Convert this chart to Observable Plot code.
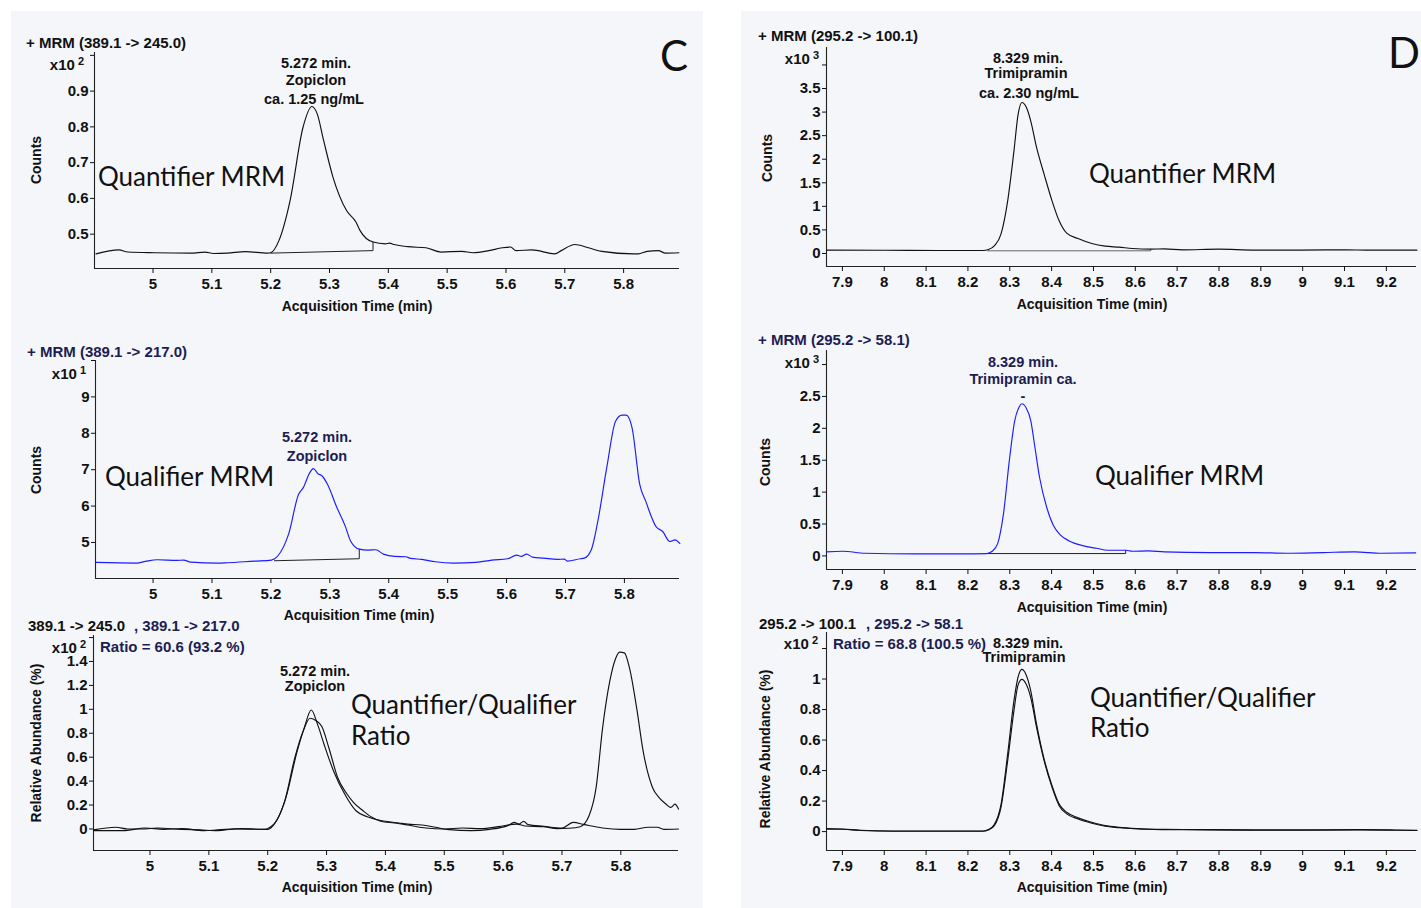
<!DOCTYPE html>
<html><head><meta charset="utf-8">
<script src="https://cdn.jsdelivr.net/npm/d3@7"></script>
<script src="https://cdn.jsdelivr.net/npm/@observablehq/plot@0.6"></script>
<style>
body{margin:0;background:#fff;width:1421px;height:908px;position:relative;overflow:hidden;font-family:"Liberation Sans",Arial,sans-serif;}
.panel{position:absolute;background:#f4f6f9;}
.lbl{position:absolute;white-space:nowrap;font-weight:bold;font-size:14px;line-height:1;color:#111;}
.hdr{font-size:15px;}
.ann{font-size:14.5px;}
.ratio{font-size:15px;}
.big{position:absolute;white-space:nowrap;font-family:Lato,sans-serif;font-size:26px;line-height:1;color:#111;}
.navy{color:#1d1d52;}
.sup{font-size:11px;position:relative;top:-5px;margin-left:3px;}
svg{overflow:visible;}
</style></head><body>
<div class="panel" style="left:11px;top:11px;width:692px;height:897px"></div>
<div class="panel" style="left:741px;top:11px;width:680px;height:897px"></div>
<script>
// ---------- data ----------
const cTicks = [5, 5.1, 5.2, 5.3, 5.4, 5.5, 5.6, 5.7, 5.8];
const dTicks = [7.9, 8, 8.1, 8.2, 8.3, 8.4, 8.5, 8.6, 8.7, 8.8, 8.9, 9, 9.1, 9.2];

// C – Zopiclon quantifier MRM (389.1 -> 245.0), x10^2 counts
const c1Time = [4.903,4.942,4.957,5.003,5.065,5.088,5.103,5.126,5.157,5.195,5.2,5.214,5.233,5.255,5.27,5.279,5.29,5.306,5.329,5.345,5.352,5.374,5.395,5.402,5.41,5.433,5.464,5.49,5.525,5.544,5.571,5.594,5.608,5.617,5.644,5.683,5.694,5.717,5.74,5.763,5.817,5.825,5.84,5.859,5.871,5.894];
const c1Counts = [0.445,0.456,0.45,0.448,0.447,0.45,0.446,0.447,0.451,0.447,0.448,0.482,0.594,0.799,0.857,0.837,0.762,0.659,0.566,0.534,0.51,0.478,0.473,0.475,0.471,0.465,0.462,0.45,0.452,0.448,0.454,0.462,0.464,0.454,0.456,0.445,0.454,0.471,0.462,0.452,0.445,0.445,0.452,0.454,0.447,0.448];
const c1BaseTime = [5.2, 5.374, 5.374];
const c1BaseCounts = [0.447, 0.454, 0.478];

// C – Zopiclon qualifier MRM (389.1 -> 217.0), x10^1 counts
const c2Time = [4.903,4.972,4.987,5.007,5.041,5.052,5.064,5.11,5.126,5.172,5.201,5.212,5.23,5.247,5.255,5.266,5.272,5.28,5.287,5.296,5.312,5.326,5.335,5.341,5.35,5.364,5.378,5.391,5.41,5.429,5.437,5.456,5.479,5.51,5.548,5.575,5.602,5.617,5.625,5.634,5.644,5.663,5.686,5.698,5.703,5.725,5.732,5.744,5.755,5.77,5.785,5.796,5.803,5.813,5.826,5.836,5.854,5.865,5.877,5.886,5.894];
const c2Counts = [4.452,4.434,4.48,4.525,4.507,4.516,4.46,4.434,4.443,4.489,4.516,4.635,5.228,6.324,6.507,6.918,7.027,6.89,6.826,6.598,5.959,5.457,5.046,4.909,4.817,4.79,4.8,4.68,4.616,4.607,4.562,4.534,4.47,4.434,4.452,4.516,4.553,4.653,4.616,4.68,4.598,4.571,4.534,4.543,4.489,4.553,4.571,4.808,5.594,7.055,8.333,8.498,8.498,8.151,6.598,6.142,5.429,5.301,5.027,5.073,4.973];
const c2BaseTime = [5.206, 5.35, 5.35];
const c2BaseCounts = [4.498, 4.553, 4.817];

// C – ratio overlay, relative abundance x10^2 %
const c3QuantTime = [4.904,4.942,4.962,4.992,5.012,5.054,5.085,5.115,5.146,5.196,5.204,5.215,5.231,5.25,5.262,5.274,5.285,5.296,5.312,5.331,5.35,5.369,5.381,5.4,5.423,5.438,5.462,5.485,5.508,5.546,5.577,5.608,5.619,5.627,5.635,5.642,5.669,5.7,5.719,5.738,5.769,5.8,5.823,5.846,5.862,5.873,5.898];
const c3QuantAbund = [-0.008,0.014,0,0,0.008,-0.003,-0.008,-0.014,0,-0.003,0.014,0.069,0.262,0.649,0.843,0.994,0.87,0.704,0.483,0.29,0.152,0.102,0.083,0.064,0.05,0.041,0.033,0.014,-0.006,-0.014,-0.003,0.028,0.055,0.041,0.064,0.036,0.022,0.008,0.055,0.036,0.008,-0.003,-0.003,0.014,0.014,-0.003,0];
const c3QualTime = [4.904,4.954,4.992,5.023,5.054,5.092,5.115,5.154,5.2,5.212,5.229,5.246,5.26,5.272,5.283,5.292,5.304,5.319,5.335,5.346,5.362,5.377,5.392,5.415,5.438,5.469,5.5,5.531,5.562,5.592,5.623,5.638,5.669,5.692,5.712,5.731,5.746,5.758,5.769,5.781,5.791,5.798,5.806,5.815,5.827,5.838,5.854,5.865,5.877,5.885,5.892,5.898];
const c3QualAbund = [-0.014,-0.014,0.008,-0.003,0.003,-0.014,-0.008,0.003,-0.003,0.047,0.235,0.594,0.815,0.925,0.903,0.856,0.677,0.428,0.29,0.221,0.152,0.097,0.064,0.05,0.033,0.008,0,0.008,0.003,0.019,0.041,0.025,0.019,0.003,0.006,0.019,0.11,0.345,0.843,1.229,1.423,1.478,1.472,1.34,1.008,0.649,0.345,0.262,0.207,0.18,0.207,0.166];

// D – Trimipramin quantifier MRM (295.2 -> 100.1), x10^3 counts
const d1Time = [7.862,8.0,8.128,8.236,8.249,8.263,8.279,8.295,8.31,8.32,8.329,8.339,8.35,8.364,8.382,8.401,8.418,8.436,8.463,8.496,8.528,8.561,8.593,8.637,8.669,8.713,8.799,8.886,8.994,9.103,9.157,9.273];
const d1Counts = [0.071,0.068,0.064,0.064,0.085,0.163,0.41,1.117,2.178,2.956,3.204,3.112,2.815,2.249,1.683,1.117,0.693,0.431,0.318,0.212,0.156,0.134,0.106,0.092,0.099,0.078,0.092,0.071,0.071,0.078,0.071,0.071];
const d1BaseTime = [8.247, 8.637, 8.637];
const d1BaseCounts = [0.057, 0.057, 0.09];

// D – Trimipramin qualifier MRM (295.2 -> 58.1), x10^3 counts
const d2Time = [7.862,7.9,7.954,8.073,8.182,8.245,8.258,8.271,8.285,8.299,8.312,8.323,8.329,8.339,8.35,8.36,8.371,8.388,8.404,8.42,8.442,8.474,8.507,8.534,8.577,8.593,8.631,8.669,8.778,8.886,8.962,9.048,9.124,9.189,9.27];
const d2Counts = [0.063,0.073,0.042,0.031,0.031,0.037,0.073,0.193,0.663,1.498,2.124,2.343,2.385,2.323,2.124,1.707,1.237,0.767,0.48,0.334,0.235,0.162,0.12,0.089,0.089,0.073,0.078,0.063,0.052,0.052,0.042,0.052,0.063,0.042,0.047];
const d2BaseTime = [8.247, 8.577, 8.577];
const d2BaseCounts = [0.037, 0.037, 0.089];

// D – ratio overlay, relative abundance x10^2 %
const d3Time = [7.862,7.9,7.943,8.019,8.128,8.236,8.249,8.263,8.279,8.295,8.31,8.32,8.329,8.339,8.35,8.364,8.382,8.401,8.418,8.436,8.463,8.496,8.528,8.561,8.604,8.669,8.778,8.886,8.994,9.124,9.211,9.273];
const d3QuantAbund = [0.015,0.015,0.007,0.002,0.002,0.002,0.011,0.039,0.159,0.465,0.793,0.963,0.998,0.967,0.88,0.683,0.465,0.29,0.17,0.116,0.083,0.055,0.035,0.026,0.017,0.013,0.011,0.009,0.009,0.011,0.009,0.007];
const d3QualAbund = [0.02,0.017,0.009,0.004,0.004,0.004,0.013,0.046,0.177,0.509,0.858,1.015,1.063,1.028,0.924,0.705,0.476,0.301,0.181,0.127,0.09,0.061,0.039,0.028,0.02,0.015,0.013,0.011,0.011,0.013,0.011,0.009];

// ---------- helpers ----------
const BLUE = "#1c1cff", BLACK = "#111";
const fmt = d => String(+(+d).toFixed(2));
const pts = (xs, ys) => xs.map((x, i) => ({x, y: ys[i]}));

function label(html, x, y, {anchor = "start", cls = "lbl", rotate = 0} = {}) {
  const d = document.createElement("div");
  d.className = cls;
  d.innerHTML = html;
  d.style.left = x + "px";
  d.style.top = y + "px";
  const tx = anchor === "middle" ? "-50%" : anchor === "end" ? "-100%" : "0";
  d.style.transform = `translate(${tx},-50%)` + (rotate ? ` rotate(${rotate}deg)` : "");
  document.body.appendChild(d);
}

function chart({frame, xDomain, yDomain, xTicks, yTicks, topTick, traces, baseline}) {
  const [l, t, r, b] = frame;
  const mL = 50, mR = 4, mT = 4, mB = 30;
  const marks = [
    Plot.ruleX([xDomain[0]], {stroke: "#222", strokeWidth: 1.1}),
    Plot.ruleY([yDomain[0]], {stroke: "#222", strokeWidth: 1.1}),
    Plot.axisY({ticks: [...yTicks, topTick], tickSize: 4, tickPadding: 2, label: null, fontSize: 15,
      tickFormat: d => d === topTick ? "" : fmt(d)}),
    Plot.axisX({ticks: xTicks, tickSize: 5, tickPadding: 5, label: null, fontSize: 15, tickFormat: fmt})
  ];
  if (baseline) marks.push(Plot.line(pts(baseline.x, baseline.y), {x: "x", y: "y", stroke: baseline.color || "#222", strokeWidth: 1}));
  for (const tr of traces) {
    marks.push(Plot.line(pts(tr.x, tr.y), {x: "x", y: "y", stroke: tr.color, strokeWidth: 1.15, curve: "monotone-x"}));
  }
  const p = Plot.plot({
    width: r - l + mL + mR, height: b - t + mT + mB,
    marginLeft: mL, marginRight: mR, marginTop: mT, marginBottom: mB,
    x: {domain: xDomain}, y: {domain: yDomain},
    style: {fontFamily: '"Liberation Sans", Arial, sans-serif', fontSize: "15px", fontWeight: "bold", color: "#111", background: "transparent", overflow: "visible"},
    marks
  });
  p.style.position = "absolute";
  p.style.left = (l - mL) + "px";
  p.style.top = (t - mT) + "px";
  document.body.appendChild(p);
}

// ---------- panel C ----------
chart({frame: [94, 52, 679, 268], xDomain: [4.9005, 5.895], yDomain: [0.404, 1.008],
  xTicks: cTicks, yTicks: [0.5, 0.6, 0.7, 0.8, 0.9], topTick: 1.0,
  traces: [{x: c1Time, y: c1Counts, color: BLACK}],
  baseline: {x: c1BaseTime, y: c1BaseCounts}});
chart({frame: [95, 360, 679, 578], xDomain: [4.9023, 5.8935], yDomain: [4.01, 10],
  xTicks: cTicks, yTicks: [5, 6, 7, 8, 9], topTick: 10,
  traces: [{x: c2Time, y: c2Counts, color: BLUE}],
  baseline: {x: c2BaseTime, y: c2BaseCounts}});
chart({frame: [93, 635, 678, 850], xDomain: [4.904, 5.898], yDomain: [-0.18, 1.617],
  xTicks: cTicks, yTicks: [0, 0.2, 0.4, 0.6, 0.8, 1, 1.2, 1.4], topTick: 1.6,
  traces: [{x: c3QuantTime, y: c3QuantAbund, color: BLACK}, {x: c3QualTime, y: c3QualAbund, color: BLACK}]});

// ---------- panel D ----------
chart({frame: [826, 47, 1416, 266], xDomain: [7.862, 9.272], yDomain: [-0.276, 4.37],
  xTicks: dTicks, yTicks: [0, 0.5, 1, 1.5, 2, 2.5, 3, 3.5], topTick: 4,
  traces: [{x: d1Time, y: d1Counts, color: BLACK}],
  baseline: {x: d1BaseTime, y: d1BaseCounts, color: "#666"}});
chart({frame: [826, 350, 1416, 569], xDomain: [7.862, 9.272], yDomain: [-0.213, 3.22],
  xTicks: dTicks, yTicks: [0, 0.5, 1, 1.5, 2, 2.5], topTick: 3,
  traces: [{x: d2Time, y: d2Counts, color: BLUE}],
  baseline: {x: d2BaseTime, y: d2BaseCounts}});
chart({frame: [826, 632, 1416, 850], xDomain: [7.862, 9.272], yDomain: [-0.124, 1.305],
  xTicks: dTicks, yTicks: [0, 0.2, 0.4, 0.6, 0.8, 1], topTick: 1.2,
  traces: [{x: d3Time, y: d3QuantAbund, color: BLACK}, {x: d3Time, y: d3QualAbund, color: BLACK}]});

// ---------- texts: panel C ----------
label("+ MRM (389.1 -&gt; 245.0)", 26, 42, {cls: "lbl hdr"});
label('x10<span class="sup">2</span>', 84, 64, {anchor: "end", cls: "lbl hdr"});
label("Counts", 36, 160, {anchor: "middle", rotate: -90});
label("Acquisition Time (min)", 357, 306, {anchor: "middle"});
label("5.272 min.", 316, 63, {anchor: "middle", cls: "lbl ann"});
label("Zopiclon", 316, 80, {anchor: "middle", cls: "lbl ann"});
label("ca. 1.25 ng/mL", 314, 99, {anchor: "middle", cls: "lbl ann"});
label("Quantifier MRM", 98, 176, {cls: "big"});
label("C", 674, 55, {anchor: "middle", cls: "big"});

label("+ MRM (389.1 -&gt; 217.0)", 27, 351, {cls: "lbl hdr navy"});
label('x10<span class="sup">1</span>', 86, 373, {anchor: "end", cls: "lbl hdr"});
label("Counts", 36, 470, {anchor: "middle", rotate: -90});
label("Acquisition Time (min)", 359, 615, {anchor: "middle"});
label("5.272 min.", 317, 437, {anchor: "middle", cls: "lbl ann navy"});
label("Zopiclon", 317, 456, {anchor: "middle", cls: "lbl ann navy"});
label("Qualifier MRM", 105, 476, {cls: "big"});

label("389.1 -&gt; 245.0", 28, 625, {cls: "lbl hdr"});
label(", 389.1 -&gt; 217.0", 134, 625, {cls: "lbl hdr navy"});
label('x10<span class="sup">2</span>', 86, 647, {anchor: "end", cls: "lbl hdr"});
label("Ratio = 60.6 (93.2 %)", 100, 646, {cls: "lbl ratio navy"});
label("Relative Abundance (%)", 36, 743, {anchor: "middle", rotate: -90});
label("Acquisition Time (min)", 357, 887, {anchor: "middle"});
label("5.272 min.", 315, 671, {anchor: "middle", cls: "lbl ann"});
label("Zopiclon", 315, 686, {anchor: "middle", cls: "lbl ann"});
label("Quantifier/Qualifier", 351, 704, {cls: "big"});
label("Ratio", 351, 735, {cls: "big"});

// ---------- texts: panel D ----------
label("+ MRM (295.2 -&gt; 100.1)", 758, 35, {cls: "lbl hdr"});
label('x10<span class="sup">3</span>', 819, 58, {anchor: "end", cls: "lbl hdr"});
label("Counts", 767, 158, {anchor: "middle", rotate: -90});
label("Acquisition Time (min)", 1092, 304, {anchor: "middle"});
label("8.329 min.", 1028, 58, {anchor: "middle", cls: "lbl ann"});
label("Trimipramin", 1026, 73, {anchor: "middle", cls: "lbl ann"});
label("ca. 2.30 ng/mL", 1029, 93, {anchor: "middle", cls: "lbl ann"});
label("Quantifier MRM", 1089, 173, {cls: "big"});
label("D", 1404, 52, {anchor: "middle", cls: "big"});

label("+ MRM (295.2 -&gt; 58.1)", 758, 339, {cls: "lbl hdr navy"});
label('x10<span class="sup">3</span>', 819, 362, {anchor: "end", cls: "lbl hdr"});
label("Counts", 765, 462, {anchor: "middle", rotate: -90});
label("Acquisition Time (min)", 1092, 607, {anchor: "middle"});
label("8.329 min.", 1023, 362, {anchor: "middle", cls: "lbl ann navy"});
label("Trimipramin ca.", 1023, 379, {anchor: "middle", cls: "lbl ann navy"});
label("-", 1023, 396, {anchor: "middle", cls: "lbl ann navy"});
label("Qualifier MRM", 1095, 475, {cls: "big"});

label("295.2 -&gt; 100.1", 759, 623, {cls: "lbl hdr"});
label(", 295.2 -&gt; 58.1", 866, 623, {cls: "lbl hdr navy"});
label('x10<span class="sup">2</span>', 818, 643, {anchor: "end", cls: "lbl hdr"});
label("Ratio = 68.8 (100.5 %)", 833, 643, {cls: "lbl ratio navy"});
label("8.329 min.", 1028, 643, {anchor: "middle", cls: "lbl ann"});
label("Trimipramin", 1024, 657, {anchor: "middle", cls: "lbl ann"});
label("Relative Abundance (%)", 765, 749, {anchor: "middle", rotate: -90});
label("Acquisition Time (min)", 1092, 887, {anchor: "middle"});
label("Quantifier/Qualifier", 1090, 697, {cls: "big"});
label("Ratio", 1090, 727, {cls: "big"});

// big letter size
document.querySelectorAll(".big").forEach(e => { if (e.textContent.length === 1) e.style.fontSize = "42px"; });
</script>
</body></html>
